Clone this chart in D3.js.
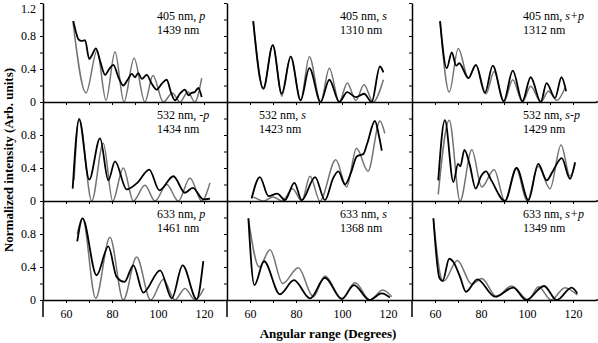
<!DOCTYPE html>
<html>
<head>
<meta charset="utf-8">
<script src="https://cdn.jsdelivr.net/npm/d3@7"></script>
<style>
  body { margin: 0; background: #fff; }
  svg { display: block; font-family: "Liberation Serif", "Times New Roman", serif; }
</style>
</head>
<body>
<div id="chart"></div>
<script>
// panel labels
const wavelengths = ["405 nm", "532 nm", "633 nm"]
const polarizations = [["p", "s", "s+p"], ["-p", "s", "s-p"], ["p", "s", "s+p"]]
const thicknesses = [[1439, 1310, 1312], [1434, 1423, 1429], [1461, 1368, 1349]]

const xTickLabels = [60, 80, 100, 120]
const xTickMarks = [60, 70, 80, 90, 100, 110, 120]
const yTickLabels = [0, 0.4, 0.8, 1.2]
const yTickMarks = [0, 0.2, 0.4, 0.6, 0.8, 1.0, 1.2]

// measured (black) and calculated (grey) curves: [angle, intensity]
const exp_405_p = [[63.2,0.98],[64.3,0.85],[65.4,0.76],[66.8,0.74],[68.3,0.75],[70.1,0.52],[71.5,0.58],[73,0.65],[75,0.48],[77,0.33],[78.8,0.4],[80.6,0.45],[82.8,0.3],[84.9,0.2],[86.8,0.27],[88.6,0.34],[90,0.3],[91.4,0.35],[93,0.28],[95.1,0.33],[97.3,0.22],[99.4,0.15],[101.6,0.22],[103.8,0.27],[105.6,0.12],[107.4,0.02],[109.5,0.1],[111.7,0.15],[113.2,0.08],[114.6,0.11],[116,0.12],[117.5,0.17],[119,0.06]]
const calc_405_p = [[63,0.98],[68.7,0.11],[73.5,0.62],[77.4,0.02],[81.3,0.61],[85.2,0.0],[89.6,0.53],[94.3,0.0],[97.8,0.32],[102.3,0.0],[106.3,0.11],[109.5,0.0],[113,0.12],[116,0.0],[119,0.29]]

const exp_405_s = [[61.4,0.98],[65.8,0.16],[69.9,0.69],[73.8,0.1],[77.7,0.55],[82,0.02],[85.8,0.41],[90.7,0.0],[94.5,0.27],[98.8,0.0],[102.3,0.12],[106,0.06],[109.6,0.1],[112.9,0.0],[116.5,0.43],[118,0.36]]
const calc_405_s = [[61.4,0.98],[65.8,0.17],[69.9,0.69],[73.8,0.07],[77.7,0.55],[82,0.02],[85.8,0.55],[90.7,0.0],[94.5,0.41],[98.8,0.0],[102.3,0.23],[106,0.02],[109.6,0.21],[113.5,0.0],[118,0.27]]

const exp_405_sp = [[62.2,0.98],[65.1,0.41],[67.3,0.6],[69.2,0.44],[70.5,0.47],[74.5,0.29],[77.8,0.45],[81.7,0.11],[85.1,0.44],[89.9,0.01],[93.8,0.38],[98,0.01],[101.6,0.3],[106,0.0],[108.5,0.23],[112.2,0.05],[115,0.3],[117,0.13]]
const calc_405_sp = [[62.2,0.98],[66.2,0.12],[70.1,0.65],[74.5,0.29],[77.8,0.45],[82.2,0.1],[85.7,0.37],[90,0.0],[93.8,0.27],[98,0.0],[101.6,0.19],[106,0.0],[109.3,0.13],[113,0.02],[116.5,0.17]]

const exp_532_p = [[62.9,0.15],[65.7,0.99],[70.1,0.26],[74.8,0.76],[78.4,0.25],[81.3,0.48],[86.4,0.14],[91,0.22],[96.2,0.38],[100.6,0.13],[106.7,0.3],[111.7,0.1],[115.1,0.16],[119.7,0.02],[122.6,0.03]]
const calc_532_p = [[63.5,0.25],[65.7,1.0],[71.2,0.0],[76.2,0.7],[80.3,0.0],[84.9,0.4],[89.3,0.0],[94.3,0.19],[98.7,0.0],[103.8,0.2],[108.8,0.0],[113.9,0.28],[119,0.0],[122.6,0.22]]

const exp_532_s = [[60.7,0.03],[64.3,0.29],[68,0.06],[71.9,0.09],[75.2,0.01],[79.3,0.22],[82.5,0.01],[88.3,0.29],[92.6,0.01],[96.2,0.28],[98.4,0.36],[101.3,0.2],[104,0.35],[106.4,0.54],[109.3,0.57],[111,0.7],[114.3,0.97],[116,0.8],[117.3,0.61]]
const calc_532_s = [[61.5,0.05],[66,0.0],[70,0.05],[74,0.0],[78.5,0.15],[82.5,0.0],[86.1,0.3],[90.4,0.0],[97.3,0.5],[102,0.17],[106.3,0.64],[111.3,0.36],[116.5,0.97],[118.6,0.82]]

const exp_532_sp = [[61.4,0.25],[64.3,0.98],[68,0.23],[70,0.45],[71,0.42],[72.8,0.62],[75,0.45],[77.7,0.15],[80,0.3],[82.2,0.36],[84.5,0.25],[90.4,0.0],[95.5,0.4],[100.6,0.01],[104.9,0.45],[108.6,0.25],[111,0.35],[115.1,0.52],[118.7,0.27],[120.9,0.47]]
const calc_532_sp = [[61.4,0.08],[66.2,0.98],[70.9,0.0],[76,0.62],[80.3,0.17],[85.7,0.38],[90.4,0.0],[95.2,0.4],[100.1,0.0],[104.9,0.42],[110,0.15],[114.8,0.68],[118.7,0.3],[120.9,0.45]]

const exp_633_p = [[64.9,0.71],[67.2,0.99],[73.3,0.3],[78.4,0.65],[82,0.28],[85.4,0.22],[89.3,0.42],[93.6,0.09],[100.9,0.36],[106,0.02],[110.7,0.42],[116.8,0.01],[119.7,0.47]]
const calc_633_p = [[64.9,0.8],[67.2,0.99],[72.9,0.02],[79.1,0.76],[84.9,0.0],[90.7,0.52],[96.8,0.0],[102.3,0.25],[107.4,0.0],[111.7,0.14],[116.1,0.0],[120,0.14]]

const exp_633_s = [[59.3,0.99],[61.9,0.18],[66.1,0.47],[73,0.07],[79.1,0.24],[86.1,0.02],[92.6,0.27],[99.9,0.01],[105.2,0.18],[111.9,0.0],[117.3,0.08],[120.8,0.03]]
const calc_633_s = [[59.3,0.99],[64,0.4],[68.7,0.61],[74.2,0.2],[81,0.39],[87.5,0.04],[92.6,0.29],[99.9,0.02],[105.7,0.21],[112.2,0.0],[117.7,0.12],[121.6,0.04]]

const exp_633_sp = [[59.3,0.99],[61.9,0.27],[63.3,0.23],[66.2,0.5],[68,0.46],[70.9,0.28],[73.5,0.1],[78.4,0.25],[86.1,0.04],[94,0.15],[99.6,0.0],[107.4,0.17],[112.9,0.0],[119.4,0.15],[121.9,0.08]]
const calc_633_sp = [[59.3,0.99],[62.9,0.25],[63.8,0.23],[69.7,0.48],[76,0.19],[80.3,0.26],[86.8,0.04],[93.3,0.17],[100.6,0.0],[105,0.16],[110.5,0.0],[116.5,0.15],[121.9,0.06]]

const experiment = [[exp_405_p, exp_405_s, exp_405_sp], [exp_532_p, exp_532_s, exp_532_sp], [exp_633_p, exp_633_s, exp_633_sp]]
const calculated = [[calc_405_p, calc_405_s, calc_405_sp], [calc_532_p, calc_532_s, calc_532_sp], [calc_633_p, calc_633_s, calc_633_sp]]

const width = 598
const height = 343

// layout of the 3x3 grid
const colLeft = [43, 227, 412]
const panelW = 184
const rowZero = [102, 201, 300]
const panelH = 99
const labelDx = [114, 113, 111]
const fs = 12

const svg = d3.select("#chart").append("svg")
    .attr("width", width)
    .attr("height", height)

const line = (x, y) => d3.line()
    .x(d => x(d[0]))
    .y(d => y(d[1]))
    .curve(d3.curveMonotoneX)

for (let r = 0; r < 3; r++) {
  for (let c = 0; c < 3; c++) {
    const x = d3.scaleLinear().domain([50, 130]).range([colLeft[c], colLeft[c] + panelW])
    const y = d3.scaleLinear().domain([0, 1.2]).range([rowZero[r], rowZero[r] - panelH])
    const g = svg.append("g")

    // curves first, axes on top
    g.append("path")
        .datum(calculated[r][c])
        .attr("fill", "none")
        .attr("stroke", "#737373")
        .attr("stroke-width", 1.5)
        .attr("d", line(x, y))

    g.append("path")
        .datum(experiment[r][c])
        .attr("fill", "none")
        .attr("stroke", "#000")
        .attr("stroke-width", 1.8)
        .attr("stroke-linejoin", "round")
        .attr("d", line(x, y))

    // x axis on the zero line
    g.append("g")
        .attr("transform", `translate(0,${rowZero[r]})`)
        .call(d3.axisBottom(x).tickValues(xTickMarks)
          .tickSize(3).tickSizeOuter(0).tickPadding(6)
          .tickFormat(v => (r == 2 && xTickLabels.includes(v)) ? v : ""))
        .call(g => g.select(".domain").attr("stroke-width", 1.5))
        .call(g => g.selectAll("text").attr("font-size", fs).attr("font-family", "Liberation Serif, serif").attr("fill", "#000"))

    // y axis
    g.append("g")
        .attr("transform", `translate(${colLeft[c]},0)`)
        .call(d3.axisLeft(y).tickValues(yTickMarks)
          .tickSize(3).tickSizeOuter(0).tickPadding(4)
          .tickFormat(v => {
            if (c != 0 || !yTickLabels.includes(v)) return ""
            if (v == 1.2 && r != 0) return ""
            return v == 0 ? "0" : d3.format(".1f")(v)
          }))
        .call(g => g.select(".domain").attr("stroke-width", 1.5))
        .call(g => g.selectAll("text").attr("font-size", fs).attr("font-family", "Liberation Serif, serif").attr("fill", "#000"))
        // keep the top label inside the picture
        .call(g => g.selectAll("text").filter(v => v == 1.2).attr("dy", "0.75em"))

    // panel label
    const lab = g.append("text")
        .attr("font-size", fs)
        .attr("fill", "#000")
    const lx = colLeft[c] + (r == 1 && c == 1 ? 32 : labelDx[c])
    const ly = rowZero[r] - panelH + 17
    lab.append("tspan").attr("x", lx).attr("y", ly).text(wavelengths[r] + ", ")
    lab.append("tspan").attr("font-style", "italic").text(polarizations[r][c])
    lab.append("tspan").attr("x", lx).attr("y", ly + 13.5).text(thicknesses[r][c] + " nm")
  }
  // zero line reaches the right edge
  svg.append("line")
      .attr("x1", colLeft[2] + panelW).attr("x2", width)
      .attr("y1", rowZero[r]).attr("y2", rowZero[r])
      .attr("stroke", "#000").attr("stroke-width", 1.5)
}

// vertical axes run a bit below the last zero line
colLeft.forEach(x0 => {
  svg.append("line")
      .attr("x1", x0).attr("x2", x0)
      .attr("y1", rowZero[2]).attr("y2", 317)
      .attr("stroke", "#000").attr("stroke-width", 1.5)
})

// axis titles
svg.append("text")
    .attr("x", 328)
    .attr("y", 338)
    .attr("text-anchor", "middle")
    .attr("font-size", 13)
    .attr("font-weight", "bold")
    .text("Angular range (Degrees)")

svg.append("text")
    .attr("transform", "translate(13,160) rotate(-90)")
    .attr("text-anchor", "middle")
    .attr("font-size", 13)
    .attr("font-weight", "bold")
    .text("Normalized intensity (Arb. units)")
</script>
</body>
</html>
